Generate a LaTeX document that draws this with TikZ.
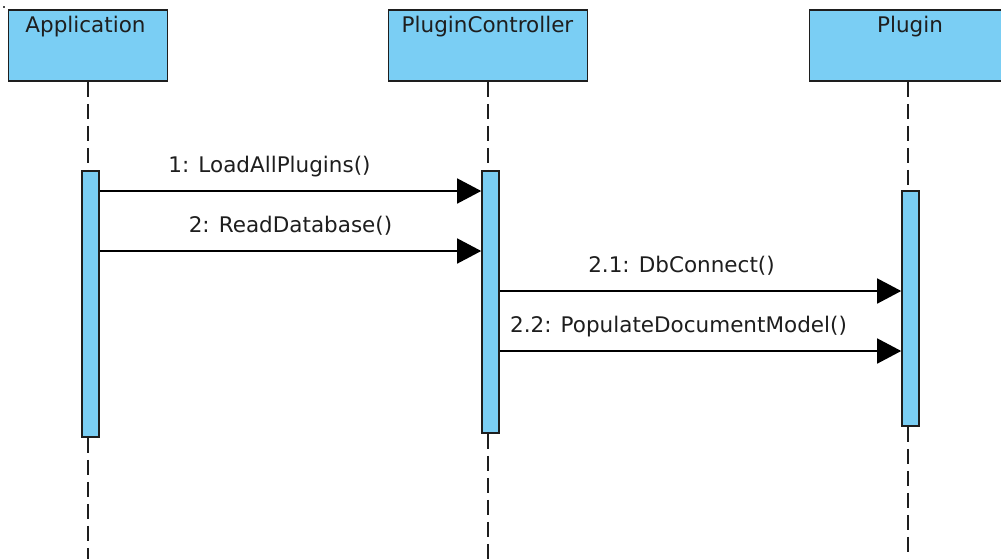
\documentclass[tikz,border=0pt]{standalone}
\usepackage{fontspec}
\setmainfont{DejaVu Sans}
\usetikzlibrary{arrows.meta}
\definecolor{umlblue}{RGB}{122,206,244}
\definecolor{umlink}{RGB}{30,30,30}
\begin{document}
\begin{tikzpicture}[x=1pt,y=-1pt,
  actor/.style={draw=umlink, fill=umlblue, line width=1.8pt, inner sep=0pt},
  actbar/.style={draw=umlink, fill=umlblue, line width=1.6pt, inner sep=0pt, minimum width=17pt},
  lifeline/.style={draw=umlink, line width=1.8pt, dash pattern=on 15pt off 7pt},
  msg/.style={draw=black, line width=1.5pt, -{Triangle[length=24pt,width=25pt]}},
  txt/.style={anchor=base, inner sep=0pt, text=umlink, font=\fontsize{21.5}{26}\selectfont}]
\clip (0,0) rectangle (1001,558);
\fill[white] (0,0) rectangle (1001,558);
\fill[umlink!80!white] (3,5.5) rectangle (5,7.5);

% participants
\node[actor, minimum width=159pt, minimum height=71pt] (app)  at (88,45.5) {};
\node[actor, minimum width=199pt, minimum height=71pt] (ctrl) at (488,45.5) {};
\node[actor, minimum width=197pt, minimum height=71pt] (plug) at (908,45.5) {};
\node[txt] (appT)  at (85.5,32) {Application};
\node[txt] (ctrlT) at (487.5,32) {PluginController};
\node[txt] (plugT) at (910,32) {Plugin};

% activation bars
\node[actbar, minimum height=266pt] (appbar)  at (90.5,304) {};
\node[actbar, minimum height=262pt] (ctrlbar) at (490.5,302) {};
\node[actbar, minimum height=235pt] (plugbar) at (910.5,308.5) {};

% lifelines
\coordinate (bottom) at (0,560);
\draw[lifeline] (app.south) -- (app.south |- appbar.north);
\draw[lifeline] (app.south |- appbar.south) -- (app.south |- bottom);
\draw[lifeline] (ctrl.south) -- (ctrl.south |- ctrlbar.north);
\draw[lifeline] (ctrl.south |- ctrlbar.south) -- (ctrl.south |- bottom);
\draw[lifeline] (plug.south) -- (plug.south |- plugbar.north);
\draw[lifeline] (plug.south |- plugbar.south) -- (plug.south |- bottom);
% redraw bars above the lifelines
\node[actbar, minimum height=266pt] at (appbar) {};
\node[actbar, minimum height=262pt] at (ctrlbar) {};
\node[actbar, minimum height=235pt] at (plugbar) {};

% messages
\coordinate (m1) at (0,191);
\coordinate (m2) at (0,251);
\coordinate (m3) at (0,291);
\coordinate (m4) at (0,351);
\draw[msg] (appbar.east |- m1) -- (ctrlbar.west |- m1);
\draw[msg] (appbar.east |- m2) -- (ctrlbar.west |- m2);
\draw[msg] (ctrlbar.east |- m3) -- (plugbar.west |- m3);
\draw[msg] (ctrlbar.east |- m4) -- (plugbar.west |- m4);
\node[txt] (l1) at (269.5,172) {1: LoadAllPlugins()};
\node[txt] (l2) at (290.5,232) {2: ReadDatabase()};
\node[txt] (l3) at (681.5,272) {2.1: DbConnect()};
\node[txt] (l4) at (678.5,332) {2.2: PopulateDocumentModel()};
\end{tikzpicture}
\end{document}
